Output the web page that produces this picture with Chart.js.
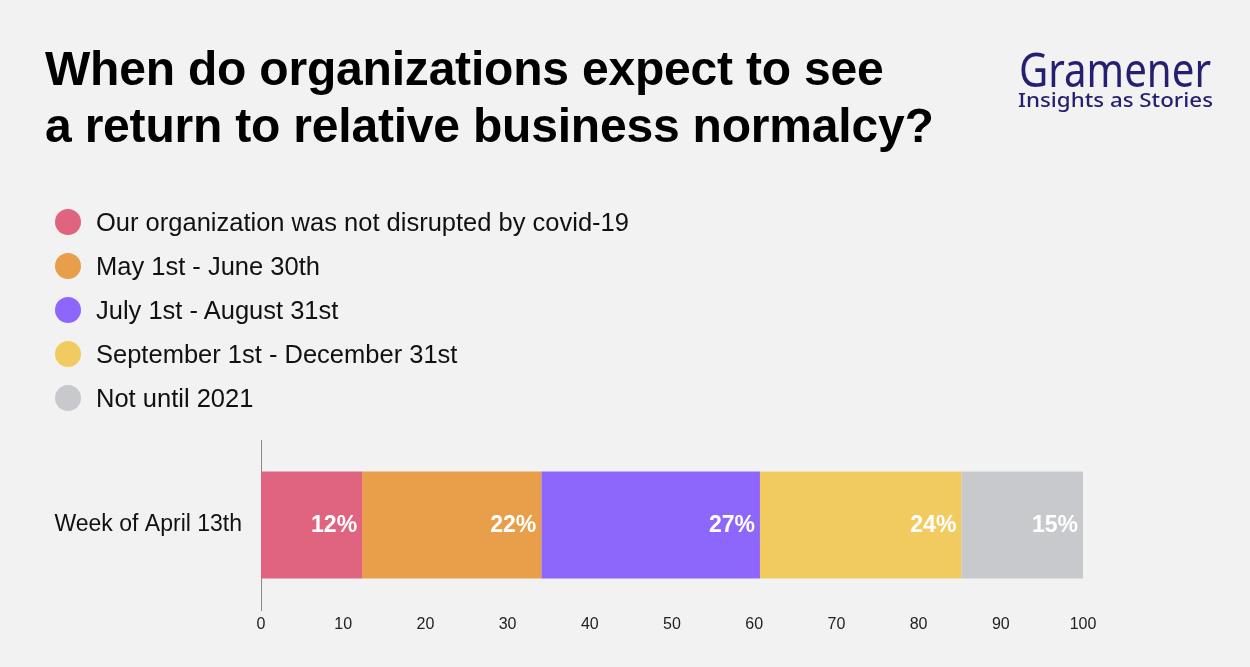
<!DOCTYPE html>
<html>
<head>
<meta charset="utf-8">
<script src="https://cdn.jsdelivr.net/npm/chart.js@4.4.1/dist/chart.umd.min.js"></script>
<style>
  html, body { margin:0; padding:0; background:#f2f2f2; }
  #wrap { position:relative; width:1250px; height:667px; overflow:hidden; background:#f2f2f2; font-family:"Liberation Sans", Arial, sans-serif; }
  #chart { position:absolute; left:0; top:0; }
  #title { position:absolute; left:45px; top:40px; font-weight:bold; font-size:48px; line-height:57px; color:#000; white-space:nowrap; letter-spacing:-0.2px; }
  #legend { position:absolute; left:55px; top:200px; }
  .row { display:flex; align-items:center; height:44px; }
  .dot { width:26px; height:26px; border-radius:50%; margin-right:15px; flex:none; }
  .lab { font-size:25.5px; color:#111; white-space:nowrap; }
  #logo1, #logo2 { position:absolute; white-space:nowrap; color:#241f70; transform-origin:0 0; font-family:"Noto Sans", sans-serif; }
  #logo1 { left:1019px; top:39px; font-size:47px; line-height:60px; font-weight:400; letter-spacing:0px; }
  #logo2 { left:1018px; top:88px; font-size:19px; line-height:24px; font-weight:500; }
</style>
</head>
<body>
<div id="wrap">
  <canvas id="chart" width="1250" height="667"></canvas>
  <div id="title">When do organizations expect to see<br>a return to relative business normalcy?</div>
  <div id="legend"></div>
  <div id="logo1">Gramener</div>
  <div id="logo2">Insights as Stories</div>
</div>
<script>
const categories = ["Week of April 13th"];
const seriesNames = [
  "Our organization was not disrupted by covid-19",
  "May 1st - June 30th",
  "July 1st - August 31st",
  "September 1st - December 31st",
  "Not until 2021"
];
const notDisrupted = [12.3];
const mayJune = [21.8];
const julyAug = [26.6];
const sepDec = [24.5];
const notUntil2021 = [14.8];
const barLabels = ["12%", "22%", "27%", "24%", "15%"];
const xTicks = [0, 10, 20, 30, 40, 50, 60, 70, 80, 90, 100];
const colors = ["#e0637f", "#e99e4a", "#8d67fb", "#f2cb60", "#c8c9cc"];

const seriesValues = [notDisrupted, mayJune, julyAug, sepDec, notUntil2021];

// HTML legend built from data arrays
const legendEl = document.getElementById('legend');
seriesNames.forEach((n, i) => {
  const r = document.createElement('div'); r.className = 'row';
  const d = document.createElement('div'); d.className = 'dot'; d.style.background = colors[i];
  const t = document.createElement('div'); t.className = 'lab'; t.textContent = n;
  r.appendChild(d); r.appendChild(t); legendEl.appendChild(r);
});

// fit logo texts to widths
function fitWidth(id, w) {
  const el = document.getElementById(id);
  const cw = el.getBoundingClientRect().width;
  el.style.transform = 'scaleX(' + (w / cw) + ')';
}
fitWidth('logo1', 192);
fitWidth('logo2', 195);

const barLabelPlugin = {
  id: 'barLabels',
  afterDatasetsDraw(chart) {
    const ctx = chart.ctx;
    ctx.save();
    ctx.font = 'bold 23px "Liberation Sans", Arial, sans-serif';
    ctx.fillStyle = '#ffffff';
    ctx.textAlign = 'right';
    ctx.textBaseline = 'middle';
    chart.data.datasets.forEach((ds, i) => {
      const meta = chart.getDatasetMeta(i);
      meta.data.forEach((el) => {
        ctx.fillText(barLabels[i], el.x - 5, el.y + 1);
      });
    });
    ctx.restore();
  }
};

new Chart(document.getElementById('chart'), {
  type: 'bar',
  data: {
    labels: categories,
    datasets: seriesNames.map((n, i) => ({
      label: n,
      data: seriesValues[i],
      backgroundColor: colors[i],
      borderWidth: 0,
      barPercentage: 0.63,
      categoryPercentage: 1.0
    }))
  },
  options: {
    indexAxis: 'y',
    responsive: false,
    animation: false,
    devicePixelRatio: 1,
    layout: { padding: { top: 440, left: 0, right: 167, bottom: 0 } },
    plugins: { legend: { display: false }, tooltip: { enabled: false }, title: { display: false } },
    scales: {
      x: {
        stacked: true,
        min: 0, max: 100,
        afterBuildTicks(scale) { scale.ticks = xTicks.map(v => ({ value: v })); },
        afterFit(scale) { scale.height = 57; },
        grid: { display: false, drawTicks: false },
        border: { display: false },
        ticks: { padding: 5, color: '#222', font: { size: 16, family: '"Liberation Sans", Arial, sans-serif' } }
      },
      y: {
        stacked: true,
        afterFit(scale) { scale.width = 261; },
        grid: { color: 'rgba(0,0,0,0)', drawTicks: false },
        border: { display: true, color: '#8a8a8a', width: 1 },
        ticks: { padding: 19, color: '#111', font: { size: 23, family: '"Liberation Sans", Arial, sans-serif' } }
      }
    }
  },
  plugins: [barLabelPlugin]
});
</script>
</body>
</html>
